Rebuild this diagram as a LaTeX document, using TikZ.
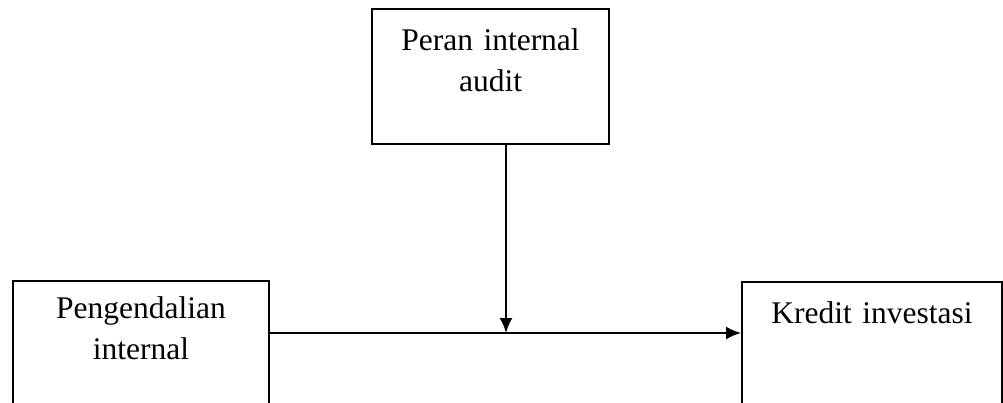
\documentclass[tikz,border=0pt]{standalone}
\usepackage{fontspec}
\setmainfont{Liberation Serif}
\usetikzlibrary{arrows.meta}

\begin{document}
\begin{tikzpicture}[x=1pt,y=-1pt,line width=2pt,
  kotak/.style={draw,anchor=north west,align=center,font=\fontsize{31.5}{41}\selectfont,text height=23pt,inner xsep=0pt}]
\useasboundingbox[fill=white] (0,0) rectangle (1003,403);
\node[kotak,text width=237pt,inner ysep=19pt,text depth=74pt] (peran) at (371,8) {Peran internal\\audit};
\node[kotak,text width=256pt,inner ysep=14pt,text depth=80pt] (kendali) at (12,280) {Pengendalian\\internal};
\node[kotak,text width=260pt,inner ysep=18pt,text depth=71pt] (kredit) at (741,281) {Kredit investasi};
\coordinate (temu) at (506,333);
\draw[-{Latex[length=15pt,width=13pt]}] (kendali.east |- temu) -- (kredit.west |- temu);
\draw[-{Latex[length=15pt,width=13pt]}] (temu |- peran.south) -- (temu);
\end{tikzpicture}
\end{document}
